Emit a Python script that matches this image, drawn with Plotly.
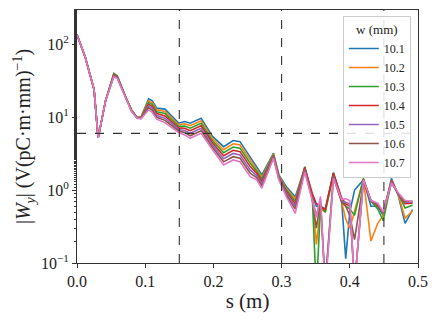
import plotly.graph_objects as go

s_m = [0.000, 0.012, 0.025, 0.031, 0.042, 0.054, 0.059, 0.066, 0.073, 0.080,
       0.088, 0.094, 0.105, 0.110, 0.117, 0.129, 0.149, 0.158, 0.166, 0.182,
       0.199, 0.215, 0.229, 0.239, 0.254, 0.2635, 0.271, 0.288, 0.296, 0.307,
       0.320, 0.334, 0.345, 0.351, 0.357, 0.364, 0.376, 0.388, 0.394, 0.400,
       0.407, 0.420, 0.431, 0.441, 0.449, 0.461, 0.471, 0.481, 0.492]

w_101 = [135, 67, 24, 5.2, 17, 40, 37, 25, 17.5, 12.6,
         10.0, 10.1, 17.8, 16.9, 13.3, 12.9, 8.28, 8.71, 8.28, 9.68,
         5.41, 3.94, 4.79, 4.62, 2.88, 2.09, 1.62, 3.2, 1.62, 1.11,
         0.81, 2.0, 0.85, 0.6, 0.6, 0.55, 1.7, 0.72, 0.115, 0.5,
         1.0, 1.38, 0.6, 0.6, 0.45, 1.45, 0.85, 0.35, 0.54]
w_102 = [135, 67, 24, 5.2, 17, 39.5, 36.5, 24.8, 17.4, 12.5,
         9.95, 10.0, 16.8, 15.9, 12.6, 12.0, 7.88, 8.13, 7.64, 8.95,
         5.05, 3.58, 4.32, 4.16, 2.59, 1.95, 1.51, 3.12, 1.58, 1.05,
         0.75, 2.0, 0.8, 0.18, 0.55, 0.5, 1.65, 0.7, 0.4, 0.3,
         0.5, 1.4, 0.2, 0.35, 0.45, 1.35, 0.88, 0.41, 0.52]
w_103 = [135, 67, 24, 5.2, 17, 39, 36, 24.6, 17.3, 12.4,
         9.9, 9.9, 15.9, 15.0, 11.9, 11.2, 7.50, 7.57, 7.06, 8.26,
         4.70, 3.25, 3.90, 3.74, 2.33, 1.82, 1.41, 3.04, 1.54, 1.0,
         0.70, 2.1, 0.8, 0.04, 0.6, 0.5, 1.75, 0.75, 0.6, 0.55,
         0.45, 1.45, 0.7, 0.55, 0.38, 1.3, 0.9, 0.57, 0.62]
w_104 = [135, 67, 24, 5.2, 17, 38, 35.5, 24.4, 17.2, 12.3,
         9.85, 9.8, 15.0, 14.1, 11.2, 10.4, 7.14, 7.06, 6.52, 7.64,
         4.39, 2.96, 3.52, 3.37, 2.10, 1.70, 1.31, 2.96, 1.50, 0.95,
         0.65, 2.05, 0.9, 0.65, 0.59, 0.54, 1.7, 0.78, 0.65, 0.6,
         0.05, 1.4, 0.72, 0.6, 0.5, 1.35, 0.88, 0.65, 0.66]
w_105 = [135, 67, 24, 5.2, 17, 37, 35, 24.2, 17.1, 12.2,
         9.8, 9.7, 14.2, 13.3, 10.5, 9.7, 6.79, 6.58, 6.01, 7.06,
         4.08, 2.69, 3.18, 3.03, 1.89, 1.58, 1.22, 2.88, 1.46, 0.90,
         0.60, 1.9, 0.75, 0.45, 0.75, 0.05, 1.55, 0.7, 0.68, 0.65,
         0.05, 1.35, 0.72, 0.62, 0.5, 1.3, 0.88, 0.68, 0.68]
w_106 = [135, 67, 24, 5.2, 17, 36.5, 34.5, 24, 17.0, 12.1,
         9.75, 9.6, 13.4, 12.5, 9.95, 9.05, 6.47, 6.14, 5.56, 6.53,
         3.81, 2.44, 2.87, 2.73, 1.70, 1.48, 1.14, 2.81, 1.42, 0.85,
         0.55, 1.85, 0.75, 0.3, 0.7, 0.05, 1.5, 0.68, 0.6, 0.45,
         0.21, 1.3, 0.72, 0.62, 0.48, 1.25, 0.9, 0.7, 0.7]
w_107 = [135, 67, 24, 5.2, 17, 36, 34, 23.8, 16.9, 12.0,
         9.7, 9.5, 12.6, 11.7, 9.4, 8.4, 6.15, 5.71, 5.13, 6.03,
         3.55, 2.21, 2.59, 2.45, 1.53, 1.38, 1.06, 2.74, 1.38, 0.81,
         0.48, 1.78, 0.72, 0.42, 0.82, 0.04, 1.45, 0.74, 0.76, 0.72,
         0.05, 1.38, 0.72, 0.66, 0.5, 1.25, 0.92, 0.72, 0.7]

w_labels = ["10.1", "10.2", "10.3", "10.4", "10.5", "10.6", "10.7"]
series = [w_101, w_102, w_103, w_104, w_105, w_106, w_107]
colors = ["#1f77b4", "#ff7f0e", "#2ca02c", "#d62728", "#9467bd", "#8c564b", "#e377c2"]

x_ticks = [0.0, 0.1, 0.2, 0.3, 0.4, 0.5]
x_tick_text = ["0.0", "0.1", "0.2", "0.3", "0.4", "0.5"]
y_ticks = [0.1, 1, 10, 100]
y_tick_text = ["10<sup>−1</sup>", "10<sup>0</sup>", "10<sup>1</sup>", "10<sup>2</sup>"]
v_lines = [0.15, 0.30, 0.45]
h_line = 6.0

FONT = "Liberation Serif"

fig = go.Figure()
for lab, ys, c in zip(w_labels, series, colors):
    fig.add_trace(go.Scatter(x=s_m, y=ys, mode="lines", name=lab,
                             line=dict(color=c, width=1.6)))

for xv in v_lines:
    fig.add_shape(type="line", xref="x", yref="paper", x0=xv, x1=xv, y0=0, y1=1,
                  line=dict(color="#333333", width=1.1, dash="dash"))
fig.add_shape(type="line", xref="paper", yref="y", x0=0, x1=1, y0=h_line, y1=h_line,
              line=dict(color="#333333", width=1.1, dash="dash"))

# page body has an 8px default margin, so the figure is sized to fit inside it
fig.update_layout(
    width=428, height=313,
    margin=dict(l=69, r=18, t=2, b=58, autoexpand=False),
    paper_bgcolor="white", plot_bgcolor="white",
    font=dict(family=FONT, size=14, color="#222222"),
    showlegend=True,
    legend=dict(
        title=dict(text="w (mm)", side="top center", font=dict(size=13, family=FONT)),
        x=0.979, xanchor="right", y=0.976, yanchor="top",
        bgcolor="rgba(255,255,255,0.85)", bordercolor="#cccccc", borderwidth=1,
        font=dict(size=12, family=FONT), itemwidth=30, tracegroupgap=0,
    ),
    xaxis=dict(
        range=[0, 0.5], tickvals=x_ticks, ticktext=x_tick_text,
        ticks="outside", ticklen=4, tickcolor="#333333",
        showline=True, mirror=True, linecolor="#333333", linewidth=1,
        showgrid=False, zeroline=False, automargin=False,
        title=dict(text="s (m)", font=dict(size=21, family=FONT), standoff=4),
        tickfont=dict(size=16, family=FONT),
    ),
    yaxis=dict(
        type="log", range=[-1, 2.47], tickvals=y_ticks, ticktext=y_tick_text,
        ticks="outside", ticklen=4, tickcolor="#333333",
        minor=dict(ticks="outside", ticklen=2, tickcolor="#333333", showgrid=False),
        showline=True, mirror=True, linecolor="#333333", linewidth=1,
        showgrid=False, zeroline=False, automargin=False,
        title=dict(text="|<i>W</i><sub><i>y</i></sub>| (V(pC·m·mm)<sup>−1</sup>)",
                   font=dict(size=20, family=FONT), standoff=4),
        tickfont=dict(size=16, family=FONT),
    ),
)

fig.write_html("out.html")
